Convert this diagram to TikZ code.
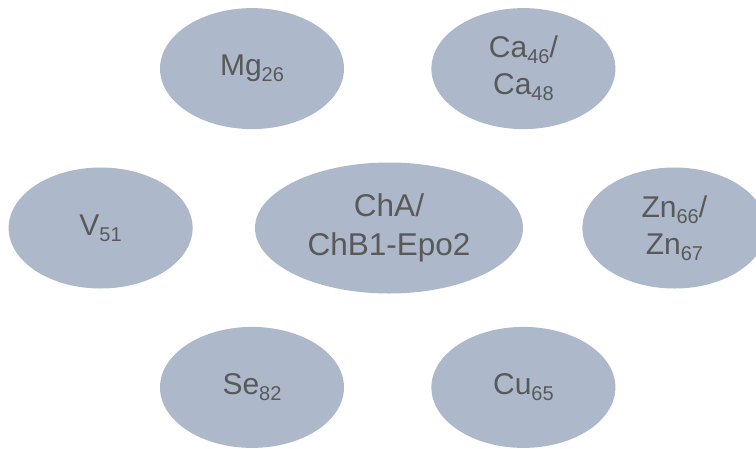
\documentclass[tikz,border=0pt]{standalone}
\usepackage{fontspec}
\setmainfont{Liberation Sans}
\usetikzlibrary{shapes.geometric, positioning}
\definecolor{isofill}{HTML}{ADB9CA}
\definecolor{isotext}{HTML}{595959}
\newcommand{\iso}[1]{\raisebox{-6pt}{\fontsize{20}{20}\selectfont #1}}
\tikzset{
    isotope/.style={ellipse, minimum width=184pt, minimum height=121pt, inner sep=0pt, align=center, fill=isofill, text=isotext, font=\fontsize{30}{37}\selectfont},
    core/.style={isotope, minimum width=268pt, minimum height=131pt, font=\fontsize{31.5}{39}\selectfont}
}

\begin{document}
\begin{tikzpicture}[x=1pt, y=-1pt, node distance=33pt]
    \clip (0,0) rectangle (756,448);
    \node (cha) [core] at (389,228) {ChA/\\ChB1-Epo2};
    \node (v) [isotope, left=62pt of cha] {V\iso{51}};
    \node (zn) [isotope, right=59pt of cha] {Zn\iso{66}/\\Zn\iso{67}};
    \node (mg) [isotope, above=of cha, xshift=-137pt] {Mg\iso{26}};
    \node (ca) [isotope, right=87pt of mg] {Ca\iso{46}/\\Ca\iso{48}};
    \node (se) [isotope, below=of cha, xshift=-137pt] {Se\iso{82}};
    \node (cu) [isotope, right=87pt of se] {Cu\iso{65}};
\end{tikzpicture}
\end{document}
